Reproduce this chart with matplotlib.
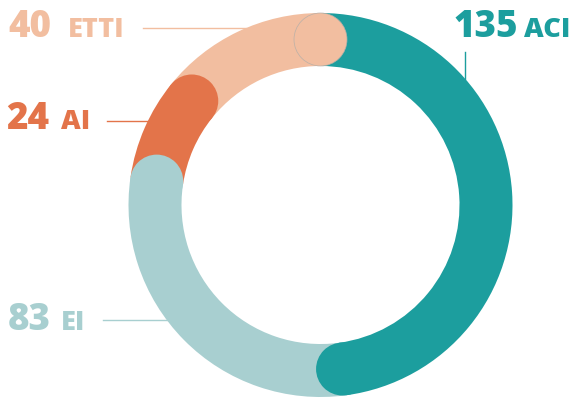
import matplotlib.pyplot as plt
import numpy as np
from matplotlib.patches import Circle

# donnees
labels = ['ACI', 'EI', 'AI', 'ETTI']
values = [135, 83, 24, 40]
colors = ['#1c9e9e', '#a8cfd0', '#e3744a', '#f2bea0']

# position des etiquettes (coord. donnees, rayon exterieur = 1)
num_pos = [(0.695, 0.875), (-1.630, -0.651), (-1.635, 0.396), (-1.624, 0.875)]
name_x = [1.062, -1.352, -1.352, -1.318]

plt.rcParams['font.family'] = ['Open Sans', 'DejaVu Sans']

fig = plt.figure(figsize=(5.77, 4.01), dpi=100)
ax = fig.add_axes([0, 0, 1, 1])
ax.axis('off')

width = 0.276
rmid = 1 - width / 2

ax.pie(values, startangle=90, counterclock=False, colors=colors, radius=1,
       wedgeprops=dict(width=width, linewidth=0))
ax.set_xlim(-320.5 / 192, (577 - 320.5) / 192)
ax.set_ylim(-196 / 192, 205 / 192)
ax.set_aspect('auto')

# bouts arrondis
total = sum(values)
ends = np.cumsum(values) / total * 360
for i, e in enumerate(ends):
    a = np.radians(90 - e)
    edge = 'none'
    lw = 0
    if labels[i] == 'ETTI':
        edge = '#b9b0a8'
        lw = 0.5
    ax.add_patch(Circle((rmid * np.cos(a), rmid * np.sin(a)), width / 2,
                        facecolor=colors[i], edgecolor=edge, linewidth=lw, zorder=5))

# etiquettes
for i in range(len(labels)):
    x, y = num_pos[i]
    ax.text(x, y, str(values[i]), color=colors[i], fontsize=26.5, fontweight='heavy',
            ha='left', va='baseline')
    ax.text(name_x[i], y, labels[i], color=colors[i], fontsize=19.5, fontweight='heavy',
            ha='left', va='baseline')

# traits de rappel
for i, name in enumerate(labels):
    if name == 'ACI':
        lx = 0.7526
        ly = np.sqrt(1 - lx ** 2)
        ax.plot([lx, lx], [0.797, ly], color=colors[i], lw=1)
    else:
        ly = {'EI': -0.599, 'AI': 0.4375, 'ETTI': 0.922}[name]
        x0 = {'EI': -1.133, 'AI': -1.112, 'ETTI': -0.924}[name]
        lx = -np.sqrt(1 - ly ** 2)
        ax.plot([x0, lx], [ly, ly], color=colors[i], lw=1)

plt.savefig('out.png', dpi=100)
plt.close()
